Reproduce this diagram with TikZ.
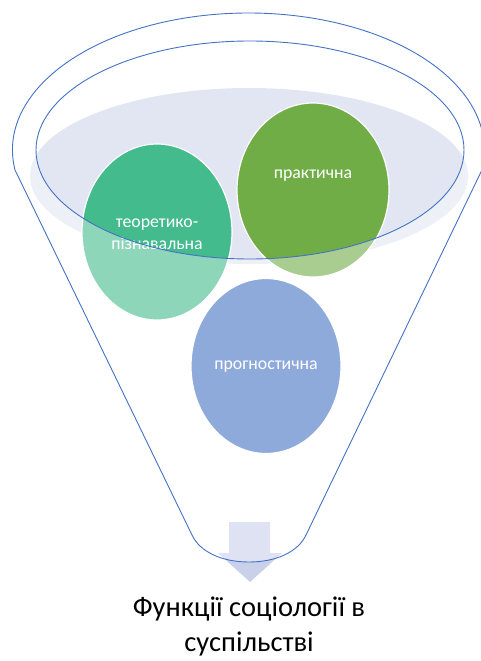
\documentclass[tikz,border=0pt]{standalone}
\usepackage{fontspec}
\setmainfont{Carlito}
\usetikzlibrary{shapes.geometric}
\definecolor{funnelc}{HTML}{4472C4}
\definecolor{liquidc}{RGB}{226,230,242}
\definecolor{tealc}{RGB}{68,187,140}
\definecolor{greenc}{HTML}{70AD47}
\definecolor{bluec}{HTML}{4472C4}
\definecolor{arrowc}{RGB}{200,208,234}
\begin{document}
\begin{tikzpicture}[x=1pt,y=-1pt,
  ball/.style={ellipse, draw=white, line width=1.2pt, inner sep=0pt,
    minimum width=150pt, minimum height=176pt},
  balltext/.style={text=white, font=\fontsize{17.8}{21.5}\selectfont, align=center, inner sep=0pt},
  rim/.style={draw=funnelc, line width=0.9pt}]
\useasboundingbox (0,0) rectangle (480,661);
% liquid surface
\fill[liquidc] (249,176) ellipse [x radius=219, y radius=88];
% balls
\node[ball, fill=tealc] (teo) at (157,232) {};
\node[ball, fill=greenc, minimum width=152pt, minimum height=174pt] (prak) at (313,190) {};
\node[ball, fill=bluec, minimum width=150pt, minimum height=175pt] (prog) at (266,366) {};
\node[balltext] (teolabel) at (157,234) {теоретико-\\пізнавальна};
\node[balltext] (praklabel) at (313,176) {практична};
\node[balltext] (proglabel) at (266,367) {прогностична};
% arrow
\fill[arrowc] (229,522) -- (270,522) -- (270,553) -- (282,553) -- (250,582) -- (218,553) -- (229,553) -- cycle;
% glass body overlay
\fill[white, fill opacity=0.4, even odd rule]
  (15,170) arc[start angle=171.6, end angle=368.4, x radius=236, y radius=137]
  -- (306,535) .. controls (298,552) and (276,562) .. (249,562)
  .. controls (222,562) and (200,552) .. (192,535) -- cycle
  (250,150) ellipse [x radius=214, y radius=109];
% outlines
\draw[rim]
  (15,170) arc[start angle=171.6, end angle=368.4, x radius=236, y radius=137]
  -- (306,535) .. controls (298,552) and (276,562) .. (249,562)
  .. controls (222,562) and (200,552) .. (192,535) -- cycle;
\draw[rim] (250,150) ellipse [x radius=214, y radius=109];
% caption
\node[align=center, font=\fontsize{28.5}{35}\selectfont] (title) at (249,626) {Функції соціології в\\суспільстві};
\end{tikzpicture}
\end{document}
